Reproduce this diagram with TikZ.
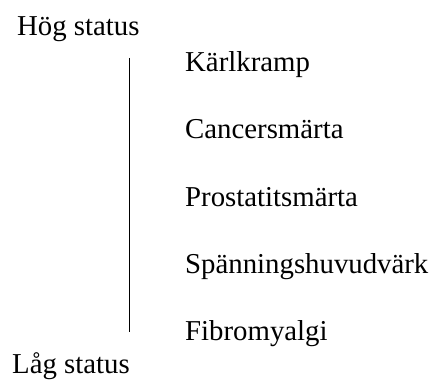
\documentclass[tikz,border=0pt]{standalone}
\usepackage{fontspec}
\setmainfont{Liberation Serif}
\begin{document}
\begin{tikzpicture}[x=1pt,y=-1pt,
  lbl/.style={anchor=base west,inner sep=0pt,font=\fontsize{28.8}{34}\selectfont}]
\useasboundingbox (0,0) rectangle (435,379);
\node[lbl] (hog) at (17,36) {Hög status};
\node[lbl] (lag) at (12,373) {Låg status};
\coordinate (top) at (129.5,58);
\coordinate (bot) at (129.5,332);
\draw[line width=1.8pt] (top) -- (bot);
\node[lbl] (k1) at (185,72) {Kärlkramp};
\node[lbl] (k2) at (185,139) {Cancersmärta};
\node[lbl] (k3) at (185,206) {Prostatitsmärta};
\node[lbl] (k4) at (185,273) {Spänningshuvudvärk};
\node[lbl] (k5) at (185,340) {Fibromyalgi};
\end{tikzpicture}
\end{document}
